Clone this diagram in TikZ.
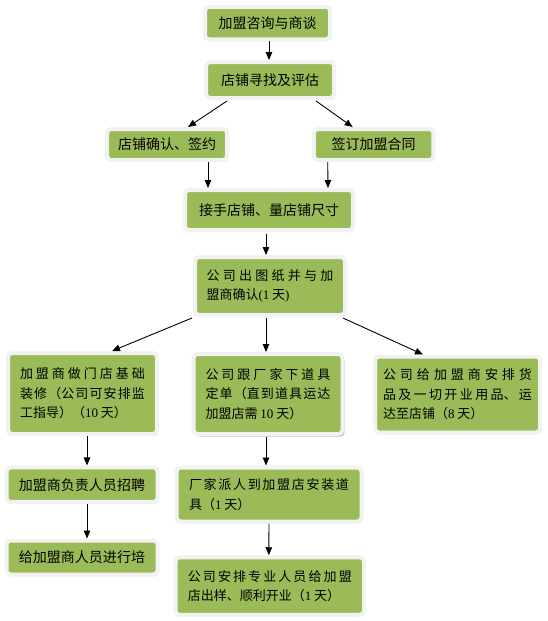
\documentclass[tikz,border=0pt]{standalone}
\usepackage{fontspec}
\setmainfont{Noto Sans CJK SC}
\newfontfamily\numfont{Liberation Serif}
\XeTeXlinebreaklocale "zh"
\XeTeXlinebreakskip=0pt plus 6pt
\usetikzlibrary{arrows.meta,shadows}
\definecolor{boxgreen}{RGB}{155,187,89}
\definecolor{boxedge}{RGB}{242,242,242}
\tikzset{
  box/.style={rectangle, rounded corners=4pt, fill=boxgreen, draw=boxedge,
    line width=4pt, inner sep=0pt, text=black,
    drop shadow={opacity=0.35, shadow xshift=1.2pt, shadow yshift=-1.8pt, fill=gray!70}},
  onebox/.style={box, font=\fontsize{14}{16}\selectfont, align=center},
  multibox/.style={box, font=\fontsize{13}{19.5}\selectfont, align=justify},
  arr/.style={-{Triangle[length=8pt,width=6.5pt]}, line width=0.9pt, black},
}
\begin{document}
\begin{tikzpicture}[x=1pt,y=-1pt]
\useasboundingbox[fill=white] (0,0) rectangle (547,621);

\node[onebox, minimum width=125pt, minimum height=32.5pt] (b1) at (267.5,23) {加盟咨询与商谈};
\node[onebox, minimum width=128pt, minimum height=36pt] (b2) at (270,80) {店铺寻找及评估};
\node[onebox, minimum width=120pt, minimum height=31pt] (b3) at (167,144.5) {店铺确认、签约};
\node[onebox, minimum width=119.5pt, minimum height=31pt] (b4) at (373.7,144.5) {签订加盟合同};
\node[onebox, minimum width=168pt, minimum height=40pt] (b5) at (269,210) {接手店铺、量店铺尺寸};

\node[multibox, text width=127pt, inner xsep=11.5pt, minimum height=58pt] (b6) at (270,286)
  {公司出图纸并与加\linebreak 盟商确认{\numfont(1} 天{\numfont)}};

\node[multibox, text width=125pt, inner xsep=12pt, minimum height=81pt] (b7) at (82.5,393.5)
  {加盟商做门店基础\linebreak 装修（公司可安排监\linebreak 工指导）（{\numfont 10} 天）};
\node[multibox, text width=125pt, inner xsep=12pt, minimum height=80pt,
  drop shadow={opacity=0.55, shadow xshift=2pt, shadow yshift=-2.5pt, fill=gray}] (b8) at (268,394)
  {公司跟厂家下道具\linebreak 定单（直到道具运达\linebreak 加盟店需 {\numfont 10} 天）};
\node[multibox, text width=149pt, inner xsep=8pt, minimum height=76pt] (b9) at (457.5,394.5)
  {公司给加盟商安排货\linebreak 品及一切开业用品、运\linebreak 达至店铺（{\numfont 8} 天）};

\node[onebox, minimum width=151pt, minimum height=34.5pt] (b10) at (82,484.7) {加盟商负责人员招聘};
\node[onebox, minimum width=151pt, minimum height=34pt] (b11) at (82,557.5) {给加盟商人员进行培};

\node[multibox, text width=160pt, inner xsep=12.5pt, minimum height=54pt] (b12) at (269,494.5)
  {厂家派人到加盟店安装道\linebreak 具（{\numfont 1} 天）};
\node[multibox, text width=164pt, inner xsep=12.25pt, minimum height=57.5pt] (b13) at (269.8,586)
  {公司安排专业人员给加盟\linebreak 店出样、顺利开业（{\numfont 1} 天）};

\draw[arr] ([xshift=1.5pt]b1.south) -- ([xshift=-1pt]b2.north);
\draw[arr] ([xshift=-43pt,yshift=-1pt]b2.south) -- ([xshift=21pt]b3.north);
\draw[arr] ([xshift=46pt,yshift=-1pt]b2.south) -- ([xshift=-21pt]b4.north);
\draw[arr] ([xshift=41pt]b3.south) -- ([xshift=-61pt]b5.north);
\draw[arr] ([xshift=-46pt]b4.south) -- ([xshift=59pt]b5.north);
\draw[arr] ([xshift=-3pt,yshift=-2pt]b5.south) -- ([xshift=-4pt]b6.north);
\draw[arr] ([xshift=-78pt,yshift=-1pt]b6.south) -- ([xshift=29.5pt]b7.north);
\draw[arr] ([xshift=-4pt,yshift=-1pt]b6.south) -- ([xshift=-2pt]b8.north);
\draw[arr] ([xshift=73pt,yshift=-1pt]b6.south) -- ([xshift=-34.5pt]b9.north);
\draw[arr] ([xshift=4.5pt]b7.south) -- ([xshift=5pt]b10.north);
\draw[arr] ([xshift=5pt]b10.south) -- ([xshift=5pt]b11.north);
\draw[arr] ([xshift=-2pt,yshift=-1pt]b8.south) -- ([xshift=-3pt]b12.north);
\draw[arr] ([xshift=0pt]b12.south) -- ([xshift=-1pt]b13.north);
\end{tikzpicture}
\end{document}
